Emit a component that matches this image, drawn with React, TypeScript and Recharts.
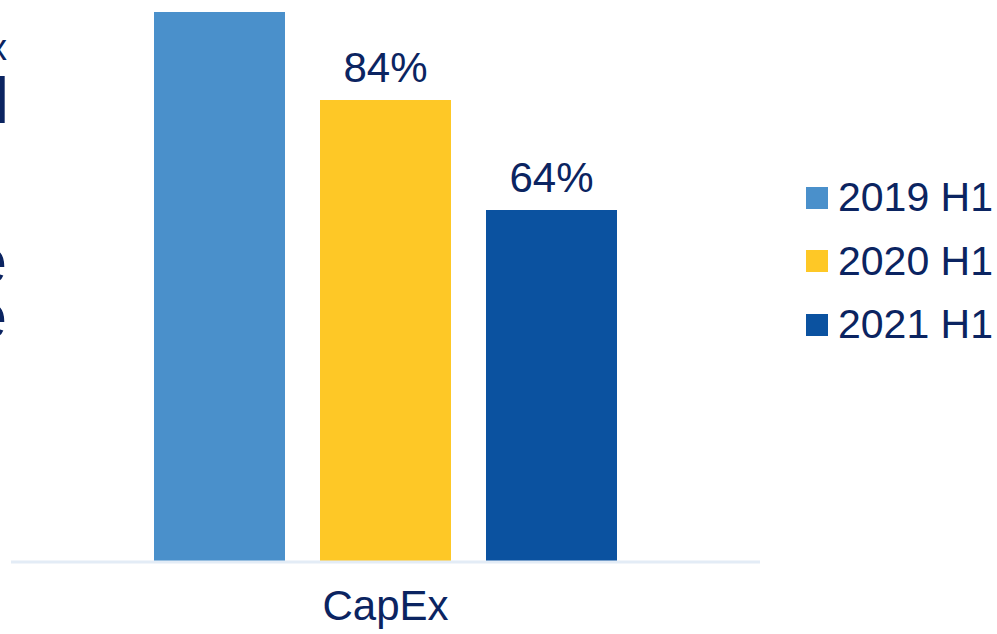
import { Bar, BarChart, LabelList, XAxis, YAxis } from 'recharts';

const categories = ['CapEx'];
const series2019 = [100];
const series2020 = [84];
const series2021 = [64];
const seriesNames = ['2019 H1', '2020 H1', '2021 H1'];
const seriesColors = ['#4a90cb', '#fec826', '#0b52a0'];

const navy = '#0b2461';
const font = '"Liberation Sans", Arial, sans-serif';

const data = categories.map((name, i) => ({
  name,
  y2019: series2019[i],
  y2020: series2020[i],
  y2021: series2021[i],
}));

const keys = ['y2019', 'y2020', 'y2021'];

function LegendBox() {
  return (
    <div style={{ position: 'absolute', left: 806, top: 166, fontFamily: font, fontSize: 41, color: navy }}>
      {seriesNames.map((n, i) => (
        <div key={n} style={{ display: 'flex', alignItems: 'center', height: 63.5 }}>
          <span style={{ width: 22, height: 22, background: seriesColors[i], marginRight: 10 }} />
          <span style={{ whiteSpace: 'nowrap' }}>{n}</span>
        </div>
      ))}
    </div>
  );
}

export default function App() {
  return (
    <div style={{ position: 'absolute', left: 0, top: 0, width: 997, height: 634, overflow: 'hidden', background: '#fff' }}>
      <BarChart
        width={997}
        height={634}
        data={data}
        margin={{ top: 12, right: 237, bottom: 0, left: 11 }}
        barSize={131}
        barGap={35}
      >
        <YAxis hide domain={[0, 100]} />
        <XAxis
          dataKey="name"
          height={72}
          axisLine={{ stroke: '#e3ecf6', strokeWidth: 3 }}
          tickLine={false}
          tickSize={0}
          tickMargin={28}
          tick={{ fill: navy, fontSize: 42, fontFamily: font }}
        />
        {keys.map((k, i) => (
          <Bar key={k} dataKey={k} name={seriesNames[i]} fill={seriesColors[i]} isAnimationActive={false}>
            <LabelList
              dataKey={k}
              position="top"
              offset={18}
              formatter={(v: number) => `${v}%`}
              style={{ fill: navy, fontSize: 42, fontFamily: font }}
            />
          </Bar>
        ))}
      </BarChart>
      <LegendBox />
      <svg width={20} height={634} style={{ position: 'absolute', left: 0, top: 0 }}>
        <g fill={navy} fontFamily={font} textAnchor="end">
          <text x={7} y={60} fontSize={36}>x</text>
          <text x={9} y={123} fontSize={64}>l</text>
          <text x={7} y={283} fontSize={64}>e</text>
          <text x={7} y={338} fontSize={64}>e</text>
        </g>
      </svg>
    </div>
  );
}
